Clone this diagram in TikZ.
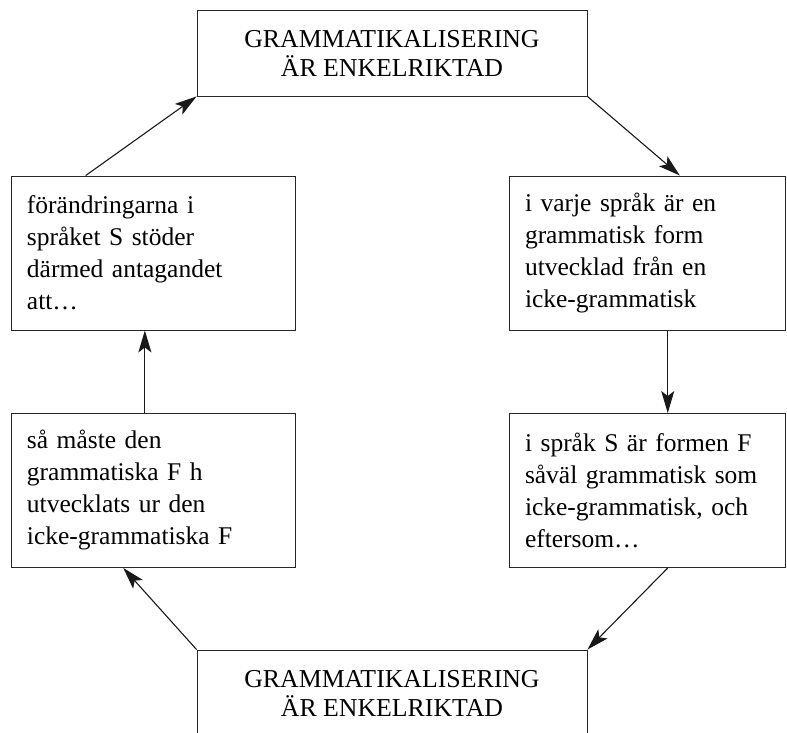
\documentclass[tikz,border=0pt]{standalone}
\usepackage{fontspec}
\setmainfont{Liberation Serif}
\usetikzlibrary{arrows.meta, positioning}

\begin{document}
\begin{tikzpicture}[
    x=1pt, y=-1pt,
    title/.style={rectangle, draw=black!85, line width=0.9pt, minimum width=390pt,
                  minimum height=86pt, align=center, inner sep=0pt,
                  font=\fontsize{25.8}{29}\selectfont},
    claim/.style={rectangle, draw=black!85, line width=0.9pt, minimum height=154pt,
                  inner xsep=16pt, align=left, font=\fontsize{25.5}{32}\selectfont},
    arrow/.style={-{Stealth[length=22pt, width=13pt, inset=5pt]}, line width=1.1pt, black!90}
]

\path[use as bounding box, clip] (0,0) rectangle (787,733);

% --- Rutor ---
\node[title] (top) at (392,53) {GRAMMATIKALISERING\\ÄR ENKELRIKTAD};
\node[claim, text width=252pt] (lu) at (153,253) {förändringarna i\\språket S stöder\\därmed antagandet\\att…};
\node[claim, text width=244pt] (ru) at (647,253) {i varje språk är en\\grammatisk form\\utvecklad från en\\icke-grammatisk};
\node[claim, text width=252pt] (ll) at (153,490.5) {så måste den\\grammatiska F h\\utvecklats ur den\\icke-grammatiska F};
\node[claim, text width=244pt] (rl) at (647,490.5) {i språk S är formen F\\såväl grammatisk som\\icke-grammatisk, och\\eftersom…};
\node[title] (bottom) at (392,693) {GRAMMATIKALISERING\\ÄR ENKELRIKTAD};

% --- Pilar ---
\draw[arrow] (lu.131) -- (top.south west);
\draw[arrow] (top.south east) -- (ru.67);
\draw[arrow] (ru.-75) -- (ru.-75 |- rl.north);
\draw[arrow] (rl.-75) -- (bottom.north east);
\draw[arrow] (bottom.north west) -- (ll.249);
\draw[arrow] (ll.96) -- (ll.96 |- lu.south);

\end{tikzpicture}
\end{document}
